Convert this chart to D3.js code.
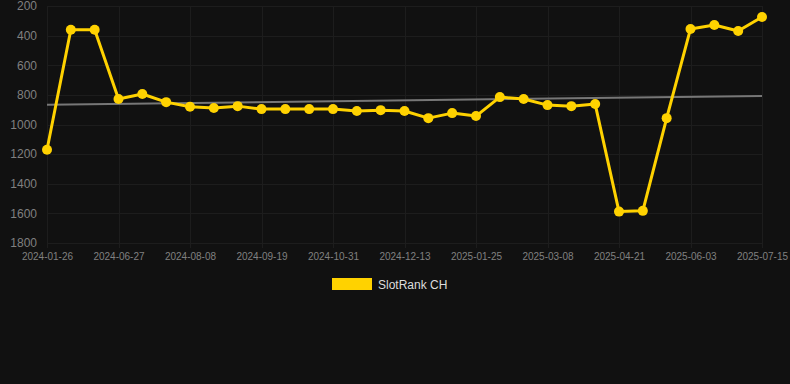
<!DOCTYPE html>
<html>
<head>
<meta charset="utf-8">
<script src="https://cdn.jsdelivr.net/npm/d3@7"></script>
<style>
  html, body { margin: 0; padding: 0; background: #111111; }
  svg { display: block; font-family: "Liberation Sans", Arial, sans-serif; }
</style>
</head>
<body>
<svg id="chart" width="790" height="384"></svg>
<script>

// dates of each point (category axis, only every 3rd is labelled)
var vsDates = ["2024-01-26", "2024-05-30", "2024-06-13",
               "2024-06-27", "2024-07-11", "2024-07-25",
               "2024-08-08", "2024-08-22", "2024-09-05",
               "2024-09-19", "2024-10-03", "2024-10-17",
               "2024-10-31", "2024-11-14", "2024-11-28",
               "2024-12-13", "2024-12-27", "2025-01-11",
               "2025-01-25", "2025-02-08", "2025-02-22",
               "2025-03-08", "2025-03-22", "2025-04-06",
               "2025-04-21", "2025-05-05", "2025-05-19",
               "2025-06-03", "2025-06-17", "2025-07-01",
               "2025-07-15"];

var vnRank = [1170, 360, 360,
              828, 794, 849,
              880, 889, 876,
              896, 896, 896,
              896, 909, 903,
              909, 957, 923,
              943, 815, 828,
              869, 876, 862,
              1588, 1583, 957,
              355, 328, 369,
              274];

var vnYTicks = [200, 400, 600, 800, 1000, 1200, 1400, 1600, 1800];

// trend line end values (first and last category)
var vnTrend = [866, 808];

var sSeriesName = "SlotRank CH";

var g_colorBackground = "#111111";
var g_colorGrid = "#1d1d1d";
var g_colorText = "#808080";
var g_colorLine = "#FFD200";
var g_colorTrend = "#777777";

var margin = { left: 47, right: 28, top: 6, bottom: 141 };
var nW = 790, nH = 384;

var svg = d3.select("#chart");

svg.append("rect")
    .attr("width", nW)
    .attr("height", nH)
    .attr("fill", g_colorBackground);

var x = d3.scalePoint()
    .domain(vsDates)
    .range([margin.left, nW - margin.right]);

var y = d3.scaleLinear()
    .domain([200, 1800])
    .range([margin.top, nH - margin.bottom]);

var vsXTicks = vsDates.filter(function(d, i) { return i % 3 == 0; });

// grid
svg.append("g")
    .selectAll("line.hgrid")
    .data(vnYTicks)
    .enter()
    .append("line")
        .attr("class", "hgrid")
        .attr("x1", margin.left)
        .attr("x2", nW - margin.right)
        .attr("y1", function(d) { return Math.round(y(d)) + 0.5; })
        .attr("y2", function(d) { return Math.round(y(d)) + 0.5; })
        .attr("stroke", g_colorGrid)
        .attr("stroke-width", 1);

svg.append("g")
    .selectAll("line.vgrid")
    .data(vsXTicks)
    .enter()
    .append("line")
        .attr("class", "vgrid")
        .attr("x1", function(d) { return Math.round(x(d)) + 0.5; })
        .attr("x2", function(d) { return Math.round(x(d)) + 0.5; })
        .attr("y1", margin.top)
        .attr("y2", nH - margin.bottom + 5)
        .attr("stroke", g_colorGrid)
        .attr("stroke-width", 1);

// y axis labels
var yAxis = d3.axisLeft(y).tickValues(vnYTicks).tickFormat(d3.format("d")).tickSize(0).tickPadding(10);
var gY = svg.append("g")
    .attr("transform", "translate(" + margin.left + ",0)")
    .call(yAxis);
gY.select(".domain").remove();
gY.selectAll("text")
    .attr("fill", g_colorText)
    .attr("font-size", "12px")
    .attr("font-family", "Liberation Sans, Arial, sans-serif");

// x axis labels
var xAxis = d3.axisBottom(x).tickValues(vsXTicks).tickSize(0).tickPadding(10);
var gX = svg.append("g")
    .attr("transform", "translate(0," + (nH - margin.bottom) + ")")
    .call(xAxis);
gX.select(".domain").remove();
gX.selectAll("text")
    .attr("fill", g_colorText)
    .attr("font-size", "10px")
    .attr("font-family", "Liberation Sans, Arial, sans-serif");

// trend line
svg.append("line")
    .attr("x1", x(vsDates[0]))
    .attr("x2", x(vsDates[vsDates.length - 1]))
    .attr("y1", y(vnTrend[0]))
    .attr("y2", y(vnTrend[1]))
    .attr("stroke", g_colorTrend)
    .attr("stroke-width", 2);

// series line
var line = d3.line()
    .x(function(d, i) { return x(vsDates[i]); })
    .y(function(d) { return y(d); });

svg.append("path")
    .datum(vnRank)
    .attr("d", line)
    .attr("fill", "none")
    .attr("stroke", g_colorLine)
    .attr("stroke-width", 3)
    .attr("stroke-linejoin", "round");

svg.append("g")
    .selectAll("circle")
    .data(vnRank)
    .enter()
    .append("circle")
        .attr("cx", function(d, i) { return x(vsDates[i]); })
        .attr("cy", function(d) { return y(d); })
        .attr("r", 5)
        .attr("fill", g_colorLine);

// legend
svg.append("rect")
    .attr("x", 332)
    .attr("y", 278)
    .attr("width", 40)
    .attr("height", 12)
    .attr("fill", g_colorLine);

svg.append("text")
    .attr("x", 378)
    .attr("y", 288.5)
    .attr("fill", "#dddddd")
    .attr("font-size", "12px")
    .text(sSeriesName);

</script>
</body>
</html>
